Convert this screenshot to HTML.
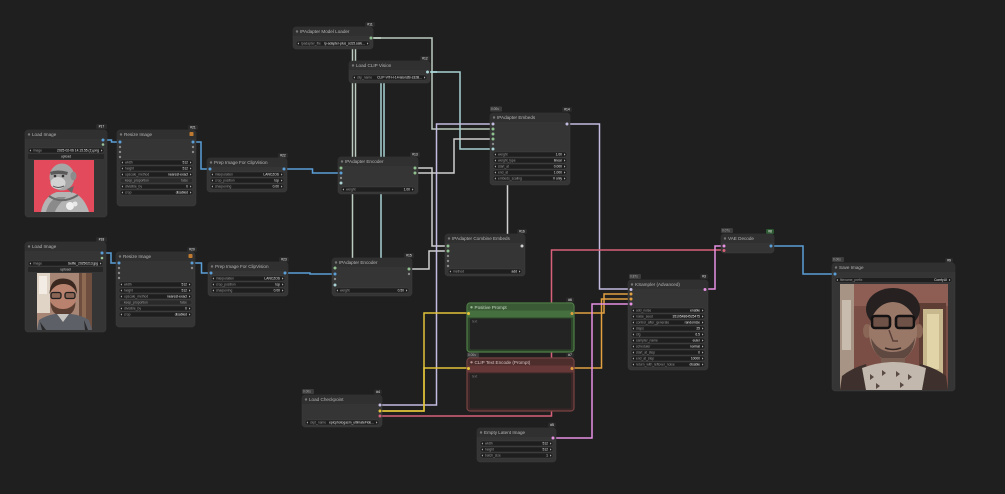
<!DOCTYPE html>
<html><head><meta charset="utf-8"><style>
html,body{margin:0;padding:0;background:#1f1f1f;width:1005px;height:494px;overflow:hidden}
svg{display:block}
.t{font:4.6px "Liberation Sans",sans-serif;fill:#b4b4b4}
.wl{font:3.3px "Liberation Sans",sans-serif;fill:#9a9a9a}
.wv{font:3.3px "Liberation Sans",sans-serif;fill:#e6e6e6;text-anchor:end}
.bd{font:3.4px "Liberation Sans",sans-serif;fill:#f0f0f0;text-anchor:middle}
.tm{font:3.2px "Liberation Sans",sans-serif;fill:#b0b0b0}
.n{fill:#353535;stroke:#3e3e3e;stroke-width:.5}
.tb{fill:#303030}
.w{fill:#1e1e1e;stroke:#4a4a4a;stroke-width:.4}
.ar{fill:#cfcfcf}
.l{fill:none;stroke-width:1.5}
.bg{fill:#2a2a2a}
.tg{fill:#3c3c3c}
</style></head><body>
<svg width="1005" height="494" viewBox="0 0 1005 494" xmlns="http://www.w3.org/2000/svg">
<rect width="1005" height="494" fill="#1f1f1f"/>

<!-- ============ WIRES ============ -->
<g class="wires">
<path class="l" stroke="#5a9fd8" d="M103 140 H111.5 V142 H120"/>
<path class="l" stroke="#5a9fd8" d="M193 142 H201 V169 H210"/>
<path class="l" stroke="#5a9fd8" d="M284 169 H312.5 V173 H341"/>
<path class="l" stroke="#5a9fd8" d="M102 253 H111 V263 H119"/>
<path class="l" stroke="#5a9fd8" d="M192 263 H201.5 V273 H211"/>
<path class="l" stroke="#5a9fd8" d="M285 273 H310 V274 H335"/>
<path class="l" stroke="#bccbbf" d="M371 38 H381 H355.5 V168 H341"/>
<path class="l" stroke="#bccbbf" d="M371 38 H381 H352.5 V268 H335"/>
<path class="l" stroke="#bccbbf" d="M371 38 H432 V129 H493"/>
<path class="l" stroke="#a8d2d4" d="M427.5 72 H437 H384 V183 H341"/>
<path class="l" stroke="#a8d2d4" d="M427.5 72 H437 H381 V285 H335"/>
<path class="l" stroke="#a8d2d4" d="M427.5 72 H460 V149 H493"/>
<path class="l" stroke="#cfcfcf" d="M415 168 H432 V246 H448"/>
<path class="l" stroke="#cfcfcf" d="M415 173 H454 V139 H493"/>
<path class="l" stroke="#cfcfcf" d="M409 269 H429 V251 H448"/>
<path class="l" stroke="#cfcfcf" d="M520 246 H507.5 V134 H493"/>
<path class="l" stroke="#c4bce0" d="M380 405 H436.5 V124 H493"/>
<path class="l" stroke="#c4bce0" d="M567 124 H599.5 V289 H631"/>
<path class="l" stroke="#e3c43a" d="M380 411 H424 V313 H468"/>
<path class="l" stroke="#e3c43a" d="M380 411 H424 V368 H468"/>
<path class="l" stroke="#d9607a" d="M380 416 H551.5 V250 H724"/>
<path class="l" stroke="#e2a040" d="M572 313 H604 V294 H631"/>
<path class="l" stroke="#e2a040" d="M572 368 H601.5 V299 H631"/>
<path class="l" stroke="#e690e2" d="M553 438 H592 V304 H631"/>
<path class="l" stroke="#e690e2" d="M705 289 H715 V246 H724"/>
<path class="l" stroke="#5a9fd8" d="M771 246 H803 V274 H835"/>
</g>

<!-- ============ LOAD IMAGE 1 ============ -->
<rect class="bg" x="96" y="124" width="11" height="5" rx="1.5"/><text class="bd" x="101.5" y="127.6">#17</text>
<rect class="n" x="25" y="130" width="82" height="87" rx="3"/>
<rect class="tb" x="25" y="130" width="82" height="9" rx="3"/><rect class="tb" x="25" y="135" width="82" height="4"/>
<circle cx="29" cy="134.5" r="1.2" fill="#777"/><text class="t" x="32" y="136.2">Load Image</text>
<circle cx="103" cy="140" r="1.5" fill="#5a9fd8"/><circle cx="103" cy="144.5" r="1.3" fill="#9ac49a"/>
<rect class="w" x="28" y="148" width="76" height="5" rx="2.5"/><path class="ar" d="M30.8 149.4l-1.2 1.1 1.2 1.1zM101.2 149.4l1.2 1.1-1.2 1.1z"/><text class="wl" x="33" y="151.7">image</text><text class="wv" x="99" y="151.7">2025-02-06 14.15.55 (1).png</text>
<rect x="28" y="154" width="76" height="5" rx="1" fill="#262626"/><text class="bd" x="66" y="157.6" style="fill:#ccc">upload</text>
<g>
<rect x="34" y="160" width="60" height="52" fill="#e34a5b"/>
<path d="M41 212 C43 200 50 194 57 192 L71 192 C80 194 86 202 89 212Z" fill="#b4b4b4"/>
<path d="M46 212 C48 204 52 199 58 197 L66 197 C60 203 56 208 55 212Z" fill="#8a8a8a"/>
<ellipse cx="62" cy="177" rx="12.5" ry="13.5" fill="#a6a6a6"/>
<ellipse cx="73.5" cy="176" rx="3" ry="4.5" fill="#8c8c8c"/>
<ellipse cx="58" cy="183" rx="7.5" ry="6" fill="#d2d2d2"/>
<path d="M50 172 Q58 169 68 172 L67 175 Q58 173 51 175Z" fill="#5a5a5a"/>
<circle cx="55" cy="176" r="1.3" fill="#333"/><circle cx="63" cy="176" r="1.3" fill="#333"/>
<path d="M53 186 Q58 189 64 186" stroke="#555" stroke-width="1" fill="none"/>
<path d="M49 196 Q62 205 78 195" stroke="#6a6a6a" stroke-width="2" fill="none"/>
<circle cx="70" cy="206" r="4" fill="#f0f0f0"/><circle cx="75" cy="204" r="2.5" fill="#e8e8e8"/>
<path d="M67 189 L74 186 L72 193Z" fill="#6a6a6a"/>
</g>

<!-- ============ RESIZE 1 ============ -->
<rect class="bg" x="188" y="125" width="10" height="5" rx="1.5"/><text class="bd" x="193" y="128.6">#21</text>
<rect class="n" x="117" y="130" width="79" height="76" rx="3"/>
<rect class="tb" x="117" y="130" width="79" height="9" rx="3"/><rect class="tb" x="117" y="135" width="79" height="4"/>
<circle cx="121" cy="134.5" r="1.2" fill="#777"/><text class="t" x="124" y="136.2">Resize Image</text>
<rect x="189.5" y="132" width="4" height="4" rx=".8" fill="#c07a30"/>
<circle cx="120" cy="142" r="1.5" fill="#5a9fd8"/><circle cx="120" cy="147" r="1.2" fill="#8a8a8a"/><circle cx="120" cy="152" r="1.2" fill="#8a8a8a"/><circle cx="120" cy="157" r="1.2" fill="#8a8a8a"/>
<circle cx="193" cy="142" r="1.5" fill="#5a9fd8"/><circle cx="193" cy="147" r="1.2" fill="#8a8a8a"/><circle cx="193" cy="152" r="1.2" fill="#8a8a8a"/>
<rect class="w" x="120" y="160" width="73" height="5" rx="2.5"/><path class="ar" d="M122.8 161.4l-1.2 1.1 1.2 1.1zM190.2 161.4l1.2 1.1-1.2 1.1z"/><text class="wl" x="125" y="163.7">width</text><text class="wv" x="188" y="163.7">512</text>
<rect class="w" x="120" y="166" width="73" height="5" rx="2.5"/><path class="ar" d="M122.8 167.4l-1.2 1.1 1.2 1.1zM190.2 167.4l1.2 1.1-1.2 1.1z"/><text class="wl" x="125" y="169.7">height</text><text class="wv" x="188" y="169.7">512</text>
<rect class="w" x="120" y="172" width="73" height="5" rx="2.5"/><path class="ar" d="M122.8 173.4l-1.2 1.1 1.2 1.1zM190.2 173.4l1.2 1.1-1.2 1.1z"/><text class="wl" x="125" y="175.7">upscale_method</text><text class="wv" x="188" y="175.7">nearest-exact</text>
<rect class="w" x="120" y="178" width="73" height="5" rx="2.5" style="fill:#2a2a2a"/><text class="wl" x="125" y="181.7">keep_proportion</text><text class="wv" x="188" y="181.7" style="fill:#999">false</text>
<rect class="w" x="120" y="184" width="73" height="5" rx="2.5"/><path class="ar" d="M122.8 185.4l-1.2 1.1 1.2 1.1zM190.2 185.4l1.2 1.1-1.2 1.1z"/><text class="wl" x="125" y="187.7">divisible_by</text><text class="wv" x="188" y="187.7">0</text>
<rect class="w" x="120" y="190" width="73" height="5" rx="2.5"/><path class="ar" d="M122.8 191.4l-1.2 1.1 1.2 1.1zM190.2 191.4l1.2 1.1-1.2 1.1z"/><text class="wl" x="125" y="193.7">crop</text><text class="wv" x="188" y="193.7">disabled</text>

<!-- ============ PREP 1 ============ -->
<rect class="bg" x="278" y="153" width="10" height="5" rx="1.5"/><text class="bd" x="283" y="156.6">#22</text>
<rect class="n" x="207" y="158" width="80" height="34" rx="3"/>
<rect class="tb" x="207" y="158" width="80" height="9" rx="3"/><rect class="tb" x="207" y="163" width="80" height="4"/>
<circle cx="211" cy="162.5" r="1.2" fill="#777"/><text class="t" x="214" y="164.2">Prep Image For ClipVision</text>
<circle cx="210" cy="169" r="1.5" fill="#5a9fd8"/><circle cx="284" cy="169" r="1.5" fill="#5a9fd8"/>
<rect class="w" x="210" y="172" width="74" height="5" rx="2.5"/><path class="ar" d="M212.8 173.4l-1.2 1.1 1.2 1.1zM281.2 173.4l1.2 1.1-1.2 1.1z"/><text class="wl" x="215" y="175.7">interpolation</text><text class="wv" x="279" y="175.7">LANCZOS</text>
<rect class="w" x="210" y="178" width="74" height="5" rx="2.5"/><path class="ar" d="M212.8 179.4l-1.2 1.1 1.2 1.1zM281.2 179.4l1.2 1.1-1.2 1.1z"/><text class="wl" x="215" y="181.7">crop_position</text><text class="wv" x="279" y="181.7">top</text>
<rect class="w" x="210" y="184" width="74" height="5" rx="2.5"/><path class="ar" d="M212.8 185.4l-1.2 1.1 1.2 1.1zM281.2 185.4l1.2 1.1-1.2 1.1z"/><text class="wl" x="215" y="187.7">sharpening</text><text class="wv" x="279" y="187.7">0.00</text>

<!-- ============ LOAD IMAGE 2 ============ -->
<rect class="bg" x="96" y="237" width="11" height="5" rx="1.5"/><text class="bd" x="101.5" y="240.6">#18</text>
<rect class="n" x="25" y="242" width="81" height="90" rx="3"/>
<rect class="tb" x="25" y="242" width="81" height="9" rx="3"/><rect class="tb" x="25" y="247" width="81" height="4"/>
<circle cx="29" cy="246.5" r="1.2" fill="#777"/><text class="t" x="32" y="248.2">Load Image</text>
<circle cx="102" cy="253" r="1.5" fill="#5a9fd8"/><circle cx="102" cy="258" r="1.3" fill="#9ac49a"/>
<rect class="w" x="28" y="261" width="75" height="5" rx="2.5"/><path class="ar" d="M30.8 262.4l-1.2 1.1 1.2 1.1zM100.2 262.4l1.2 1.1-1.2 1.1z"/><text class="wl" x="33" y="264.7">image</text><text class="wv" x="98" y="264.7">Selfie_20250213.jpg</text>
<rect x="28" y="267" width="75" height="5" rx="1" fill="#262626"/><text class="bd" x="65.5" y="270.6" style="fill:#ccc">upload</text>
<g>
<rect x="37" y="273" width="55" height="57" fill="#a88676"/>
<rect x="37" y="273" width="13" height="40" fill="#e0d4c6"/>
<rect x="39" y="276" width="8" height="18" fill="#f2ece4"/>
<rect x="79" y="273" width="13" height="57" fill="#6e4e3e"/>
<rect x="82" y="273" width="4" height="57" fill="#8e6a52"/>
<ellipse cx="63" cy="298" rx="13" ry="17" fill="#b8826e"/>
<path d="M49.5 294 Q50 278 63.5 278.5 Q77 279 77 294 Q73 284 63.5 284 Q54 284 49.5 294Z" fill="#3a2820"/>
<rect x="51" y="292.5" width="10" height="6" rx="2" fill="#8a6454" stroke="#1e1e1e" stroke-width="1.3"/>
<rect x="65" y="292.5" width="10" height="6" rx="2" fill="#8a6454" stroke="#1e1e1e" stroke-width="1.3"/>
<path d="M50.5 302 Q51 316 63 316 Q75 316 75.5 302 Q71 309 63 309 Q55 309 50.5 302Z" fill="#5a3e32"/>
<path d="M37 330 L39 320 Q47 315 55 314 L71 314 Q81 315 89 320 L92 330Z" fill="#5e6068"/>
<path d="M57 314 L63 322 L69 314Z" fill="#c8c4c0"/>
<path d="M40 322 L46 330 L42 330Z M84 320 L88 330 L85 330Z" fill="#2a2a2a"/>
</g>

<!-- ============ RESIZE 2 ============ -->
<rect class="bg" x="187" y="247" width="10" height="5" rx="1.5"/><text class="bd" x="192" y="250.6">#20</text>
<rect class="n" x="116" y="252" width="79" height="75" rx="3"/>
<rect class="tb" x="116" y="252" width="79" height="9" rx="3"/><rect class="tb" x="116" y="257" width="79" height="4"/>
<circle cx="120" cy="256.5" r="1.2" fill="#777"/><text class="t" x="123" y="258.2">Resize Image</text>
<rect x="188.5" y="254" width="4" height="4" rx=".8" fill="#c07a30"/>
<circle cx="119" cy="263" r="1.5" fill="#5a9fd8"/><circle cx="119" cy="268" r="1.2" fill="#8a8a8a"/><circle cx="119" cy="273" r="1.2" fill="#8a8a8a"/><circle cx="119" cy="278" r="1.2" fill="#8a8a8a"/>
<circle cx="192" cy="263" r="1.5" fill="#5a9fd8"/><circle cx="192" cy="268" r="1.2" fill="#8a8a8a"/>
<rect class="w" x="119" y="282" width="73" height="5" rx="2.5"/><path class="ar" d="M121.8 283.4l-1.2 1.1 1.2 1.1zM189.2 283.4l1.2 1.1-1.2 1.1z"/><text class="wl" x="124" y="285.7">width</text><text class="wv" x="187" y="285.7">512</text>
<rect class="w" x="119" y="288" width="73" height="5" rx="2.5"/><path class="ar" d="M121.8 289.4l-1.2 1.1 1.2 1.1zM189.2 289.4l1.2 1.1-1.2 1.1z"/><text class="wl" x="124" y="291.7">height</text><text class="wv" x="187" y="291.7">512</text>
<rect class="w" x="119" y="294" width="73" height="5" rx="2.5"/><path class="ar" d="M121.8 295.4l-1.2 1.1 1.2 1.1zM189.2 295.4l1.2 1.1-1.2 1.1z"/><text class="wl" x="124" y="297.7">upscale_method</text><text class="wv" x="187" y="297.7">nearest-exact</text>
<rect class="w" x="119" y="300" width="73" height="5" rx="2.5" style="fill:#2a2a2a"/><text class="wl" x="124" y="303.7">keep_proportion</text><text class="wv" x="187" y="303.7" style="fill:#999">false</text>
<rect class="w" x="119" y="306" width="73" height="5" rx="2.5"/><path class="ar" d="M121.8 307.4l-1.2 1.1 1.2 1.1zM189.2 307.4l1.2 1.1-1.2 1.1z"/><text class="wl" x="124" y="309.7">divisible_by</text><text class="wv" x="187" y="309.7">0</text>
<rect class="w" x="119" y="312" width="73" height="5" rx="2.5"/><path class="ar" d="M121.8 313.4l-1.2 1.1 1.2 1.1zM189.2 313.4l1.2 1.1-1.2 1.1z"/><text class="wl" x="124" y="315.7">crop</text><text class="wv" x="187" y="315.7">disabled</text>

<!-- ============ PREP 2 ============ -->
<rect class="bg" x="279" y="257" width="10" height="5" rx="1.5"/><text class="bd" x="284" y="260.6">#23</text>
<rect class="n" x="208" y="262" width="80" height="34" rx="3"/>
<rect class="tb" x="208" y="262" width="80" height="9" rx="3"/><rect class="tb" x="208" y="267" width="80" height="4"/>
<circle cx="212" cy="266.5" r="1.2" fill="#777"/><text class="t" x="215" y="268.2">Prep Image For ClipVision</text>
<circle cx="211" cy="273" r="1.5" fill="#5a9fd8"/><circle cx="285" cy="273" r="1.5" fill="#5a9fd8"/>
<rect class="w" x="211" y="276" width="74" height="5" rx="2.5"/><path class="ar" d="M213.8 277.4l-1.2 1.1 1.2 1.1zM282.2 277.4l1.2 1.1-1.2 1.1z"/><text class="wl" x="216" y="279.7">interpolation</text><text class="wv" x="280" y="279.7">LANCZOS</text>
<rect class="w" x="211" y="282" width="74" height="5" rx="2.5"/><path class="ar" d="M213.8 283.4l-1.2 1.1 1.2 1.1zM282.2 283.4l1.2 1.1-1.2 1.1z"/><text class="wl" x="216" y="285.7">crop_position</text><text class="wv" x="280" y="285.7">top</text>
<rect class="w" x="211" y="288" width="74" height="5" rx="2.5"/><path class="ar" d="M213.8 289.4l-1.2 1.1 1.2 1.1zM282.2 289.4l1.2 1.1-1.2 1.1z"/><text class="wl" x="216" y="291.7">sharpening</text><text class="wv" x="280" y="291.7">0.00</text>

<!-- ============ IPADAPTER MODEL LOADER ============ -->
<rect class="bg" x="365" y="22" width="10" height="5" rx="1.5"/><text class="bd" x="370" y="25.6">#11</text>
<rect class="n" x="293" y="27" width="80" height="22" rx="3"/>
<rect class="tb" x="293" y="27" width="80" height="9" rx="3"/><rect class="tb" x="293" y="32" width="80" height="4"/>
<circle cx="297" cy="31.5" r="1.2" fill="#777"/><text class="t" x="300" y="33.2">IPAdapter Model Loader</text>
<circle cx="371" cy="38" r="1.5" fill="#8fc08f"/>
<rect class="w" x="296" y="41" width="74" height="5" rx="2.5"/><path class="ar" d="M298.8 42.4l-1.2 1.1 1.2 1.1zM367.2 42.4l1.2 1.1-1.2 1.1z"/><text class="wl" x="301" y="44.7">ipadapter_file</text><text class="wv" x="365" y="44.7">ip-adapter-plus_sd15.safe...</text>

<!-- ============ LOAD CLIP VISION ============ -->
<rect class="bg" x="420" y="56" width="10" height="5" rx="1.5"/><text class="bd" x="425" y="59.6">#12</text>
<rect class="n" x="349" y="61" width="81" height="22" rx="3"/>
<rect class="tb" x="349" y="61" width="81" height="9" rx="3"/><rect class="tb" x="349" y="66" width="81" height="4"/>
<circle cx="353" cy="65.5" r="1.2" fill="#777"/><text class="t" x="356" y="67.2">Load CLIP Vision</text>
<circle cx="427.5" cy="72" r="1.5" fill="#a8d2d4"/>
<rect class="w" x="352" y="75" width="75" height="5" rx="2.5"/><path class="ar" d="M354.8 76.4l-1.2 1.1 1.2 1.1zM424.2 76.4l1.2 1.1-1.2 1.1z"/><text class="wl" x="357" y="78.7">clip_name</text><text class="wv" x="422" y="78.7">CLIP-ViT-H-14-laion2B-s32B...</text>

<!-- ============ IPADAPTER ENCODER 1 ============ -->
<rect class="bg" x="410" y="152" width="10" height="5" rx="1.5"/><text class="bd" x="415" y="155.6">#13</text>
<rect class="n" x="338" y="157" width="80" height="37" rx="3"/>
<rect class="tb" x="338" y="157" width="80" height="9" rx="3"/><rect class="tb" x="338" y="162" width="80" height="4"/>
<circle cx="342" cy="161.5" r="1.2" fill="#777"/><text class="t" x="345" y="163.2">IPAdapter Encoder</text>
<circle cx="341" cy="168" r="1.5" fill="#8fc08f"/><circle cx="341" cy="173" r="1.5" fill="#5a9fd8"/><circle cx="341" cy="178" r="1.2" fill="#8a8a8a"/><circle cx="341" cy="183" r="1.5" fill="#a8d2d4"/>
<circle cx="415" cy="168" r="1.5" fill="#8fc08f"/><circle cx="415" cy="173" r="1.5" fill="#8fc08f"/>
<rect class="w" x="341" y="187" width="74" height="5" rx="2.5"/><path class="ar" d="M343.8 188.4l-1.2 1.1 1.2 1.1zM412.2 188.4l1.2 1.1-1.2 1.1z"/><text class="wl" x="346" y="190.7">weight</text><text class="wv" x="410" y="190.7">1.00</text>

<!-- ============ IPADAPTER ENCODER 2 ============ -->
<rect class="bg" x="404" y="253" width="10" height="5" rx="1.5"/><text class="bd" x="409" y="256.6">#15</text>
<rect class="n" x="332" y="258" width="80" height="38" rx="3"/>
<rect class="tb" x="332" y="258" width="80" height="9" rx="3"/><rect class="tb" x="332" y="263" width="80" height="4"/>
<circle cx="336" cy="262.5" r="1.2" fill="#777"/><text class="t" x="339" y="264.2">IPAdapter Encoder</text>
<circle cx="335" cy="268" r="1.5" fill="#8fc08f"/><circle cx="335" cy="274" r="1.5" fill="#5a9fd8"/><circle cx="335" cy="279" r="1.2" fill="#8a8a8a"/><circle cx="335" cy="285" r="1.5" fill="#a8d2d4"/>
<circle cx="409" cy="269" r="1.5" fill="#8fc08f"/><circle cx="409" cy="274" r="1.2" fill="#8a8a8a"/>
<rect class="w" x="335" y="288" width="74" height="5" rx="2.5"/><path class="ar" d="M337.8 289.4l-1.2 1.1 1.2 1.1zM406.2 289.4l1.2 1.1-1.2 1.1z"/><text class="wl" x="340" y="291.7">weight</text><text class="wv" x="404" y="291.7">0.50</text>

<!-- ============ IPADAPTER EMBEDS ============ -->
<rect class="tg" x="490" y="106.5" width="12" height="5" rx="1"/><text class="tm" x="491" y="110.2">0.00s</text>
<rect class="bg" x="562" y="107" width="10" height="5" rx="1.5"/><text class="bd" x="567" y="110.6">#14</text>
<rect class="n" x="490" y="113" width="80" height="72" rx="3"/>
<rect class="tb" x="490" y="113" width="80" height="9" rx="3"/><rect class="tb" x="490" y="118" width="80" height="4"/>
<circle cx="494" cy="117.5" r="1.2" fill="#777"/><text class="t" x="497" y="119.2">IPAdapter Embeds</text>
<circle cx="493" cy="124" r="1.5" fill="#c4bce0"/><circle cx="493" cy="129" r="1.5" fill="#8fc08f"/><circle cx="493" cy="134" r="1.5" fill="#8fc08f"/><circle cx="493" cy="139" r="1.5" fill="#8fc08f"/><circle cx="493" cy="144" r="1.2" fill="#8a8a8a"/><circle cx="493" cy="149" r="1.5" fill="#a8d2d4"/>
<circle cx="567" cy="124" r="1.5" fill="#c4bce0"/>
<rect class="w" x="493" y="152" width="74" height="5" rx="2.5"/><path class="ar" d="M495.8 153.4l-1.2 1.1 1.2 1.1zM564.2 153.4l1.2 1.1-1.2 1.1z"/><text class="wl" x="498" y="155.7">weight</text><text class="wv" x="562" y="155.7">1.00</text>
<rect class="w" x="493" y="158" width="74" height="5" rx="2.5"/><path class="ar" d="M495.8 159.4l-1.2 1.1 1.2 1.1zM564.2 159.4l1.2 1.1-1.2 1.1z"/><text class="wl" x="498" y="161.7">weight_type</text><text class="wv" x="562" y="161.7">linear</text>
<rect class="w" x="493" y="164" width="74" height="5" rx="2.5"/><path class="ar" d="M495.8 165.4l-1.2 1.1 1.2 1.1zM564.2 165.4l1.2 1.1-1.2 1.1z"/><text class="wl" x="498" y="167.7">start_at</text><text class="wv" x="562" y="167.7">0.000</text>
<rect class="w" x="493" y="170" width="74" height="5" rx="2.5"/><path class="ar" d="M495.8 171.4l-1.2 1.1 1.2 1.1zM564.2 171.4l1.2 1.1-1.2 1.1z"/><text class="wl" x="498" y="173.7">end_at</text><text class="wv" x="562" y="173.7">1.000</text>
<rect class="w" x="493" y="176" width="74" height="5" rx="2.5"/><path class="ar" d="M495.8 177.4l-1.2 1.1 1.2 1.1zM564.2 177.4l1.2 1.1-1.2 1.1z"/><text class="wl" x="498" y="179.7">embeds_scaling</text><text class="wv" x="562" y="179.7">V only</text>

<!-- ============ COMBINE EMBEDS ============ -->
<rect class="bg" x="517" y="229" width="10" height="5" rx="1.5"/><text class="bd" x="522" y="232.6">#16</text>
<rect class="n" x="445" y="234" width="80" height="42" rx="3"/>
<rect class="tb" x="445" y="234" width="80" height="9" rx="3"/><rect class="tb" x="445" y="239" width="80" height="4"/>
<circle cx="449" cy="238.5" r="1.2" fill="#777"/><text class="t" x="452" y="240.2">IPAdapter Combine Embeds</text>
<circle cx="448" cy="246" r="1.5" fill="#8fc08f"/><circle cx="448" cy="251" r="1.5" fill="#8fc08f"/><circle cx="448" cy="256" r="1.2" fill="#8a8a8a"/><circle cx="448" cy="261" r="1.2" fill="#8a8a8a"/><circle cx="448" cy="266" r="1.2" fill="#8a8a8a"/>
<circle cx="522" cy="246" r="1.5" fill="#cfcfcf"/>
<rect class="w" x="448" y="269" width="74" height="5" rx="2.5"/><path class="ar" d="M450.8 270.4l-1.2 1.1 1.2 1.1zM519.2 270.4l1.2 1.1-1.2 1.1z"/><text class="wl" x="453" y="272.7">method</text><text class="wv" x="517" y="272.7">add</text>

<!-- ============ POSITIVE PROMPT ============ -->
<rect class="bg" x="566" y="297.5" width="8" height="5" rx="1.5"/><text class="bd" x="570" y="301.1">#6</text>
<rect x="467" y="303" width="107" height="49" rx="3" fill="#2c4429" stroke="#4f7f46" stroke-width="1.2"/>
<rect x="467.6" y="303.6" width="105.8" height="7.5" rx="2.5" fill="#395a35"/>
<rect x="467.6" y="310.5" width="105.8" height="7" fill="#466f40"/>
<circle cx="471.5" cy="307.3" r="1.2" fill="#9ab894"/><text class="t" x="474.5" y="309" style="fill:#c8d8c4">Positive Prompt</text>
<circle cx="468.5" cy="313.5" r="1.5" fill="#e3c43a"/><circle cx="572" cy="313.5" r="1.5" fill="#e2a040"/>
<rect x="470" y="318.5" width="101" height="31" rx="1" fill="#232323"/>
<text class="wl" x="472" y="322.5" style="fill:#777">text</text>

<!-- ============ NEGATIVE PROMPT ============ -->
<rect class="tg" x="467" y="352.5" width="12" height="5" rx="1"/><text class="tm" x="468" y="356.2">0.00s</text>
<rect class="bg" x="566" y="352.5" width="8" height="5" rx="1.5"/><text class="bd" x="570" y="356.1">#7</text>
<rect x="467" y="358" width="107" height="53" rx="3" fill="#3a2626" stroke="#7a4444" stroke-width="1.2"/>
<rect x="467.6" y="358.6" width="105.8" height="7.5" rx="2.5" fill="#4e2d2d"/>
<rect x="467.6" y="365.5" width="105.8" height="7" fill="#673838"/>
<circle cx="471.5" cy="362.3" r="1.2" fill="#b89494"/><text class="t" x="474.5" y="364" style="fill:#d8c4c4">CLIP Text Encode (Prompt)</text>
<circle cx="468.5" cy="368.5" r="1.5" fill="#e3c43a"/><circle cx="572" cy="368.5" r="1.5" fill="#e2a040"/>
<rect x="470" y="373.5" width="101" height="35" rx="1" fill="#252222"/>
<text class="wl" x="472" y="377.5" style="fill:#777">text</text>

<!-- ============ LOAD CHECKPOINT ============ -->
<rect class="tg" x="302" y="389" width="12" height="5" rx="1"/><text class="tm" x="303" y="392.7">0.00s</text>
<rect class="bg" x="374" y="389.5" width="8" height="5" rx="1.5"/><text class="bd" x="378" y="393.1">#4</text>
<rect class="n" x="302" y="395" width="80" height="32" rx="3"/>
<rect class="tb" x="302" y="395" width="80" height="9" rx="3"/><rect class="tb" x="302" y="400" width="80" height="4"/>
<circle cx="306" cy="399.5" r="1.2" fill="#777"/><text class="t" x="309" y="401.2">Load Checkpoint</text>
<circle cx="380" cy="405" r="1.5" fill="#c4bce0"/><circle cx="380" cy="411" r="1.5" fill="#e3c43a"/><circle cx="380" cy="416" r="1.5" fill="#d9607a"/>
<rect class="w" x="305" y="420" width="74" height="5" rx="2.5"/><path class="ar" d="M307.8 421.4l-1.2 1.1 1.2 1.1zM376.2 421.4l1.2 1.1-1.2 1.1z"/><text class="wl" x="310" y="423.7">ckpt_name</text><text class="wv" x="374" y="423.7">epicphotogasm_ultimateFide...</text>

<!-- ============ EMPTY LATENT ============ -->
<rect class="bg" x="548" y="422.5" width="8" height="5" rx="1.5"/><text class="bd" x="552" y="426.1">#5</text>
<rect class="n" x="477" y="428" width="79" height="34" rx="3"/>
<rect class="tb" x="477" y="428" width="79" height="9" rx="3"/><rect class="tb" x="477" y="433" width="79" height="4"/>
<circle cx="481" cy="432.5" r="1.2" fill="#777"/><text class="t" x="484" y="434.2">Empty Latent Image</text>
<circle cx="553" cy="438" r="1.5" fill="#e690e2"/>
<rect class="w" x="480" y="441" width="73" height="5" rx="2.5"/><path class="ar" d="M482.8 442.4l-1.2 1.1 1.2 1.1zM550.2 442.4l1.2 1.1-1.2 1.1z"/><text class="wl" x="485" y="444.7">width</text><text class="wv" x="548" y="444.7">512</text>
<rect class="w" x="480" y="447" width="73" height="5" rx="2.5"/><path class="ar" d="M482.8 448.4l-1.2 1.1 1.2 1.1zM550.2 448.4l1.2 1.1-1.2 1.1z"/><text class="wl" x="485" y="450.7">height</text><text class="wv" x="548" y="450.7">512</text>
<rect class="w" x="480" y="453" width="73" height="5" rx="2.5"/><path class="ar" d="M482.8 454.4l-1.2 1.1 1.2 1.1zM550.2 454.4l1.2 1.1-1.2 1.1z"/><text class="wl" x="485" y="456.7">batch_size</text><text class="wv" x="548" y="456.7">1</text>

<!-- ============ KSAMPLER ============ -->
<rect class="tg" x="629" y="274" width="12" height="5" rx="1"/><text class="tm" x="630" y="277.7">0.87s</text>
<rect class="bg" x="700" y="274" width="8" height="5" rx="1.5"/><text class="bd" x="704" y="277.6">#3</text>
<rect class="n" x="628" y="280" width="80" height="90" rx="3"/>
<rect class="tb" x="628" y="280" width="80" height="9" rx="3"/><rect class="tb" x="628" y="285" width="80" height="4"/>
<circle cx="632" cy="284.5" r="1.2" fill="#777"/><text class="t" x="635" y="286.2">KSampler (Advanced)</text>
<circle cx="631" cy="289.5" r="1.5" fill="#c4bce0"/><circle cx="631" cy="294" r="1.5" fill="#e2a040"/><circle cx="631" cy="299" r="1.5" fill="#e2a040"/><circle cx="631" cy="304" r="1.5" fill="#e690e2"/>
<circle cx="705" cy="289.5" r="1.5" fill="#e690e2"/>
<rect class="w" x="631" y="308" width="74" height="5" rx="2.5"/><path class="ar" d="M633.8 309.4l-1.2 1.1 1.2 1.1zM702.2 309.4l1.2 1.1-1.2 1.1z"/><text class="wl" x="636" y="311.7">add_noise</text><text class="wv" x="700" y="311.7">enable</text>
<rect class="w" x="631" y="314" width="74" height="5" rx="2.5"/><path class="ar" d="M633.8 315.4l-1.2 1.1 1.2 1.1zM702.2 315.4l1.2 1.1-1.2 1.1z"/><text class="wl" x="636" y="317.7">noise_seed</text><text class="wv" x="700" y="317.7">351054864525475</text>
<rect class="w" x="631" y="320" width="74" height="5" rx="2.5"/><path class="ar" d="M633.8 321.4l-1.2 1.1 1.2 1.1zM702.2 321.4l1.2 1.1-1.2 1.1z"/><text class="wl" x="636" y="323.7">control_after_generate</text><text class="wv" x="700" y="323.7">randomize</text>
<rect class="w" x="631" y="326" width="74" height="5" rx="2.5"/><path class="ar" d="M633.8 327.4l-1.2 1.1 1.2 1.1zM702.2 327.4l1.2 1.1-1.2 1.1z"/><text class="wl" x="636" y="329.7">steps</text><text class="wv" x="700" y="329.7">25</text>
<rect class="w" x="631" y="332" width="74" height="5" rx="2.5"/><path class="ar" d="M633.8 333.4l-1.2 1.1 1.2 1.1zM702.2 333.4l1.2 1.1-1.2 1.1z"/><text class="wl" x="636" y="335.7">cfg</text><text class="wv" x="700" y="335.7">6.5</text>
<rect class="w" x="631" y="338" width="74" height="5" rx="2.5"/><path class="ar" d="M633.8 339.4l-1.2 1.1 1.2 1.1zM702.2 339.4l1.2 1.1-1.2 1.1z"/><text class="wl" x="636" y="341.7">sampler_name</text><text class="wv" x="700" y="341.7">euler</text>
<rect class="w" x="631" y="344" width="74" height="5" rx="2.5"/><path class="ar" d="M633.8 345.4l-1.2 1.1 1.2 1.1zM702.2 345.4l1.2 1.1-1.2 1.1z"/><text class="wl" x="636" y="347.7">scheduler</text><text class="wv" x="700" y="347.7">normal</text>
<rect class="w" x="631" y="350" width="74" height="5" rx="2.5"/><path class="ar" d="M633.8 351.4l-1.2 1.1 1.2 1.1zM702.2 351.4l1.2 1.1-1.2 1.1z"/><text class="wl" x="636" y="353.7">start_at_step</text><text class="wv" x="700" y="353.7">0</text>
<rect class="w" x="631" y="356" width="74" height="5" rx="2.5"/><path class="ar" d="M633.8 357.4l-1.2 1.1 1.2 1.1zM702.2 357.4l1.2 1.1-1.2 1.1z"/><text class="wl" x="636" y="359.7">end_at_step</text><text class="wv" x="700" y="359.7">10000</text>
<rect class="w" x="631" y="362" width="74" height="5" rx="2.5"/><path class="ar" d="M633.8 363.4l-1.2 1.1 1.2 1.1zM702.2 363.4l1.2 1.1-1.2 1.1z"/><text class="wl" x="636" y="365.7">return_with_leftover_noise</text><text class="wv" x="700" y="365.7">disable</text>

<!-- ============ VAE DECODE ============ -->
<rect class="tg" x="721" y="228" width="12" height="5" rx="1"/><text class="tm" x="722" y="231.7">0.07s</text>
<rect class="bg" x="766" y="229" width="8" height="5" rx="1.5" style="fill:#2d5a33"/><text class="bd" x="770" y="232.6">#8</text>
<rect class="n" x="721" y="234" width="53" height="19" rx="3"/>
<rect class="tb" x="721" y="234" width="53" height="9" rx="3"/><rect class="tb" x="721" y="239" width="53" height="4"/>
<circle cx="725" cy="238.5" r="1.2" fill="#777"/><text class="t" x="728" y="240.2">VAE Decode</text>
<circle cx="724" cy="246" r="1.5" fill="#e690e2"/><circle cx="724" cy="250.5" r="1.5" fill="#d9607a"/>
<circle cx="771" cy="246" r="1.5" fill="#5a9fd8"/>

<!-- ============ SAVE IMAGE ============ -->
<rect class="tg" x="832" y="257" width="12" height="5" rx="1"/><text class="tm" x="833" y="260.7">0.00s</text>
<rect class="bg" x="945" y="258" width="8" height="5" rx="1.5"/><text class="bd" x="949" y="261.6">#9</text>
<rect class="n" x="832" y="263" width="123" height="128" rx="3"/>
<rect class="tb" x="832" y="263" width="123" height="9" rx="3"/><rect class="tb" x="832" y="268" width="123" height="4"/>
<circle cx="836" cy="267.5" r="1.2" fill="#777"/><text class="t" x="839" y="269.2">Save Image</text>
<circle cx="835" cy="274" r="1.5" fill="#5a9fd8"/>
<rect class="w" x="835" y="277.5" width="117" height="5" rx="2.5"/><path class="ar" d="M837.8 278.9l-1.2 1.1 1.2 1.1zM949.2 278.9l1.2 1.1-1.2 1.1z"/><text class="wl" x="840" y="281.2">filename_prefix</text><text class="wv" x="947" y="281.2">ComfyUI</text>
<g>
<rect x="840" y="284" width="108" height="106" fill="#7a4e45"/>
<rect x="840" y="284" width="108" height="22" fill="#8e5e55"/>
<rect x="840" y="284" width="14" height="106" fill="#a89484"/>
<rect x="842" y="300" width="9" height="50" fill="#c8bcae"/>
<rect x="919" y="303" width="27" height="78" fill="#5e3e34"/>
<rect x="923" y="309" width="20" height="66" fill="#c8b88e"/>
<rect x="927" y="314" width="12" height="55" fill="#e0d4a8"/>
<ellipse cx="893" cy="309" rx="27" ry="21" fill="#262120"/>
<ellipse cx="867" cy="331" rx="4" ry="7" fill="#8a6656"/>
<ellipse cx="919" cy="331" rx="4" ry="7" fill="#8a6656"/>
<ellipse cx="893" cy="332" rx="24" ry="30" fill="#9a7868"/>
<path d="M870 308 Q880 296 893 297 Q907 296 916 308 Q906 302 893 302 Q880 302 870 308Z" fill="#262120"/>
<rect x="872" y="316" width="18" height="12" rx="3" fill="#6e5248" stroke="#141212" stroke-width="2.6"/>
<rect x="896" y="316" width="18" height="12" rx="3" fill="#6e5248" stroke="#141212" stroke-width="2.6"/>
<path d="M889 330 L893 341 L898 341" stroke="#5a4038" stroke-width="1.5" fill="none"/>
<path d="M871 338 Q873 360 893 361 Q913 360 915 338 Q908 352 893 352 Q878 352 871 338Z" fill="#5e4840"/>
<path d="M885 348 Q893 351 901 348" stroke="#3a2a26" stroke-width="1.5" fill="none"/>
<rect x="881" y="358" width="24" height="10" fill="#7a5e52"/>
<path d="M840 390 L842 376 Q852 368 866 364 L872 390Z" fill="#3e302c"/>
<path d="M948 390 L946 376 Q936 368 920 364 L914 390Z" fill="#3e302c"/>
<path d="M862 368 Q893 356 926 368 L922 390 L866 390Z" fill="#c2b8ae"/>
<path d="M870 374 l4 3 -4 3z M882 370 l4 3 -4 3z M896 371 l4 3 -4 3z M908 374 l4 3 -4 3z M876 383 l4 3 -4 3z M900 382 l4 3 -4 3z" fill="#5a4a44"/>
</g>
</svg>
</body></html>
